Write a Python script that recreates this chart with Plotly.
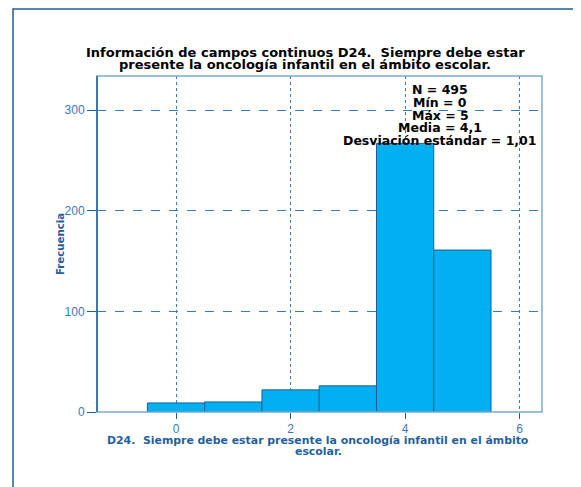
import plotly.graph_objects as go

# Frequencies per answer value (0-5)
valores = [0, 1, 2, 3, 4, 5]
frecuencias = [9, 10, 22, 26, 267, 161]

estadisticos = ["N = 495", "Mín = 0", "Máx = 5", "Media = 4,1", "Desviación estándar = 1,01"]

titulo = ["Información de campos continuos D24.  Siempre debe estar",
          "presente la oncología infantil en el ámbito escolar."]
titulo_x = ["D24.  Siempre debe estar presente la oncología infantil en el ámbito",
            "escolar."]

AZUL = "#1f5f9e"
AZUL_TEXTO = "#3a7ab4"
AZUL_CLARO = "#7aaad0"
FUENTE = "Liberation Sans, Arial, sans-serif"
FUENTE_NEGRITA = "DejaVu Sans, sans-serif"

# plot area in figure pixels (page is offset by the 8px body margin)
L, R, T, B = 89, 534, 68, 404
W, H = R - L, B - T


def px(x):
    return (x - L) / W


def py(y):
    return (B - y) / H


anotaciones = []
for linea, y in zip(titulo, [44, 57]):
    anotaciones.append({
        "text": linea, "xref": "paper", "yref": "paper",
        "x": px(297), "y": py(y), "xanchor": "center", "yanchor": "middle",
        "showarrow": False,
        "font": {"family": FUENTE_NEGRITA, "size": 13, "color": "black", "weight": "bold"},
    })
for linea, y in zip(estadisticos, [82, 94.5, 107, 119.5, 132]):
    anotaciones.append({
        "text": linea, "xref": "paper", "yref": "paper",
        "x": px(432), "y": py(y), "xanchor": "center", "yanchor": "middle",
        "showarrow": False,
        "font": {"family": FUENTE_NEGRITA, "size": 12.5, "color": "black", "weight": "bold"},
    })
for linea, y in zip(titulo_x, [432, 443]):
    anotaciones.append({
        "text": linea, "xref": "paper", "yref": "paper",
        "x": px(310), "y": py(y), "xanchor": "center", "yanchor": "middle",
        "showarrow": False,
        "font": {"family": FUENTE_NEGRITA, "size": 10.9, "color": AZUL, "weight": "bold"},
    })
anotaciones.append({
    "text": "Frecuencia", "xref": "paper", "yref": "paper",
    "x": px(52), "y": 0.5, "xanchor": "center", "yanchor": "middle",
    "textangle": -90, "showarrow": False,
    "font": {"family": FUENTE_NEGRITA, "size": 10.2, "color": AZUL, "weight": "bold"},
})

fig = go.Figure()
fig.add_trace(
    go.Bar(
        x=valores,
        y=frecuencias,
        width=1,
        marker={"color": "#00b0f0", "line": {"color": "#1d5f97", "width": 1}},
        hoverinfo="x+y",
    )
)

fig.update_layout(
    width=581,
    height=487,
    margin={"l": L, "r": 581 - R, "t": T, "b": 487 - B},
    paper_bgcolor="white",
    plot_bgcolor="white",
    showlegend=False,
    font={"family": FUENTE, "color": AZUL_TEXTO, "size": 12},
    annotations=anotaciones,
    shapes=[
        # outer frame
        {"type": "rect", "xref": "paper", "yref": "paper",
         "x0": px(5), "x1": px(700), "y0": py(600), "y1": py(1),
         "line": {"color": AZUL, "width": 1.5}, "layer": "below"},
        # plot area border
        {"type": "rect", "xref": "paper", "yref": "paper",
         "x0": 0, "x1": 1, "y0": 0, "y1": 1,
         "line": {"color": AZUL_CLARO, "width": 1.5}, "layer": "above"},
        # left axis line
        {"type": "line", "xref": "paper", "yref": "paper",
         "x0": 0, "x1": 0, "y0": 0, "y1": 1,
         "line": {"color": AZUL, "width": 1.5}, "layer": "above"},
    ],
)

fig.update_xaxes(
    range=[-1.38, 6.39],
    tickvals=[0, 2, 4, 6],
    showgrid=True,
    gridcolor=AZUL_TEXTO,
    griddash="dot",
    gridwidth=1,
    zeroline=False,
    showline=False,
    ticks="outside",
    ticklen=6,
    tickcolor=AZUL,
    tickfont={"color": AZUL_TEXTO, "size": 12},
)
fig.update_yaxes(
    range=[0, 334],
    tickvals=[0, 100, 200, 300],
    showgrid=True,
    gridcolor=AZUL_TEXTO,
    griddash="dash",
    gridwidth=1,
    zeroline=False,
    showline=False,
    ticks="outside",
    ticklen=9,
    tickcolor=AZUL,
    tickfont={"color": AZUL_TEXTO, "size": 12},
)

fig.write_html("out.html")
